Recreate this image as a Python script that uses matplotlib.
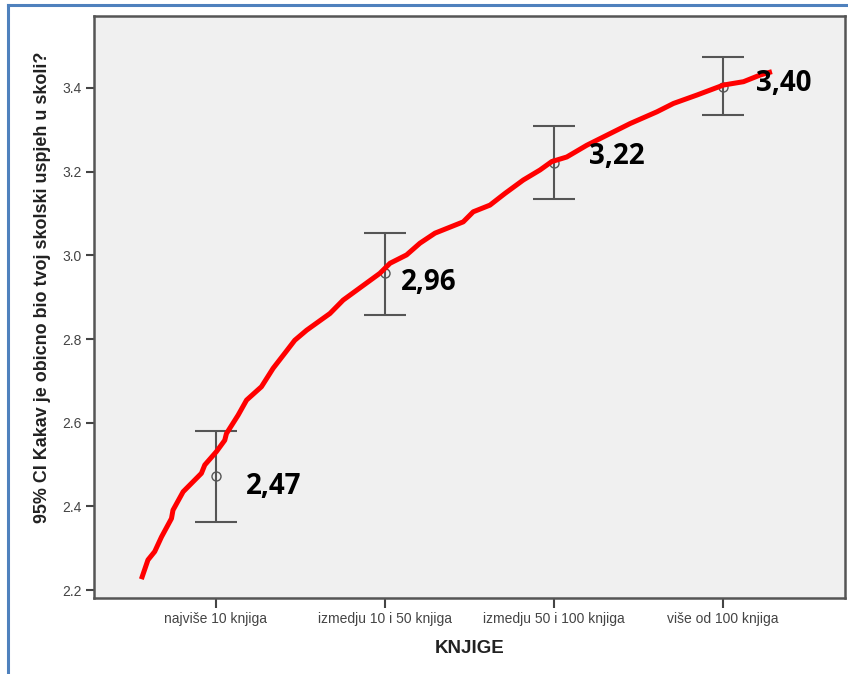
import numpy as np
import matplotlib.pyplot as plt
from matplotlib.lines import Line2D

categories = ['najviše 10 knjiga', 'izmedju 10 i 50 knjiga', 'izmedju 50 i 100 knjiga', 'više od 100 knjiga']
means = [2.472, 2.957, 3.220, 3.403]
ci_low = [2.363, 2.857, 3.134, 3.335]
ci_high = [2.581, 3.054, 3.309, 3.473]
value_labels = ['2,47', '2,96', '3,22', '3,40']

# hand drawn red trend line (x in category units)
trend_x = [-0.440, -0.401, -0.361, -0.321, -0.262, -0.253, -0.193, -0.085, -0.065, 0.004,
           0.053, 0.063, 0.132, 0.182, 0.270, 0.339, 0.408, 0.467, 0.537, 0.675,
           0.753, 0.970, 1.030, 1.128, 1.207, 1.296, 1.463, 1.522, 1.621, 1.710,
           1.818, 1.917, 1.986, 2.075, 2.193, 2.351, 2.450, 2.608, 2.706, 2.844,
           3.002, 3.120, 3.219, 3.288]
trend_y = [2.226, 2.272, 2.292, 2.327, 2.371, 2.391, 2.435, 2.479, 2.499, 2.531,
           2.558, 2.574, 2.618, 2.654, 2.686, 2.730, 2.766, 2.797, 2.821, 2.861,
           2.893, 2.957, 2.981, 3.001, 3.029, 3.053, 3.080, 3.104, 3.120, 3.148,
           3.180, 3.204, 3.224, 3.235, 3.263, 3.295, 3.315, 3.343, 3.363, 3.383,
           3.407, 3.415, 3.431, 3.439]

plt.rcParams['font.family'] = ['Liberation Sans', 'DejaVu Sans']

fig = plt.figure(figsize=(8.48, 6.74), dpi=100)
ax = fig.add_axes([94 / 848, 76 / 674, 751 / 848, 582 / 674])
ax.set_facecolor('#f0f0f0')

x = np.arange(len(categories))
gray = '#555555'
ax.vlines(x, ci_low, ci_high, color=gray, lw=1.5)
cap = 0.125
ax.hlines(ci_low, x - cap, x + cap, color=gray, lw=1.5)
ax.hlines(ci_high, x - cap, x + cap, color=gray, lw=1.5)
ax.plot(x, means, 'o', mfc='none', mec=gray, mew=1.0, ms=6.5, ls='none')

ax.plot(trend_x, trend_y, color='#ff0000', lw=3.6, solid_capstyle='butt', zorder=5)

label_x = [0.178, 1.093, 2.207, 3.195]
label_y = [2.448, 2.934, 3.237, 3.410]
for lx, ly, t in zip(label_x, label_y, value_labels):
    ax.text(lx, ly, t, fontsize=20, fontweight='bold', family=['Open Sans', 'DejaVu Sans'],
            ha='left', va='center', color='black', zorder=6)

ax.set_xlim(-0.72, 3.72)
ax.set_ylim(2.181, 3.572)
ax.set_xticks(x)
ax.set_xticklabels(categories)
ax.set_yticks([2.2, 2.4, 2.6, 2.8, 3.0, 3.2, 3.4])
ax.set_yticklabels(['2.2', '2.4', '2.6', '2.8', '3.0', '3.2', '3.4'])
ax.tick_params(axis='both', labelsize=10, colors='#444444', length=6, width=1.5, pad=3)
ax.tick_params(axis='x', length=7)
for s in ax.spines.values():
    s.set_color('#555555')
    s.set_linewidth(1.8)

ax.set_xlabel('KNJIGE', fontsize=13.5, fontweight='bold', color='#222222')
ax.xaxis.set_label_coords(0.5, -0.086)
ax.xaxis.label.set_va('center')
ax.set_ylabel('95% CI Kakav je obicno bio tvoj skolski uspjeh u skoli?', fontsize=12.9,
              fontweight='bold', color='#222222')
ax.yaxis.set_label_coords(-0.069, 0.5335)
ax.yaxis.label.set_va('center')

# blue frame of the screenshot (top and left edges)
fig.add_artist(Line2D([8 / 848, 8 / 848], [0, 1 - 5 / 674], color='#4f81bd', lw=2.2))
fig.add_artist(Line2D([8 / 848, 1], [1 - 5 / 674, 1 - 5 / 674], color='#4f81bd', lw=2.2))

fig.savefig('out.png', dpi=100)
